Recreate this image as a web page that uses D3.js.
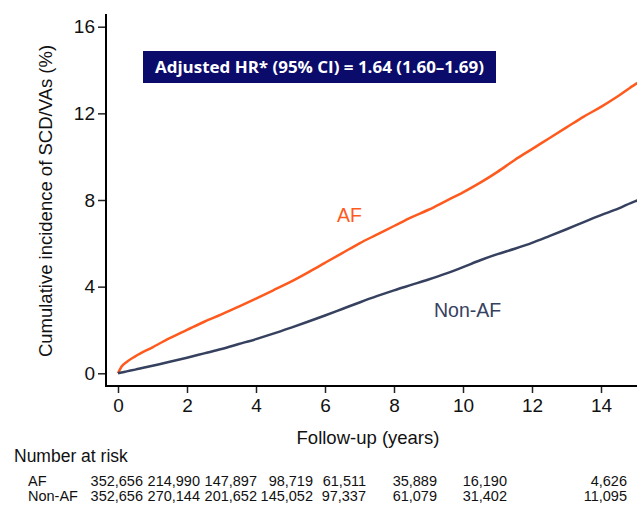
<!DOCTYPE html>
<html>
<head>
<meta charset="utf-8">
<script src="https://cdn.jsdelivr.net/npm/d3@7"></script>
<style>
  body { margin: 0; background: #fff; }
  text { font-family: "Liberation Sans", Arial, sans-serif; }
</style>
</head>
<body>
<div id="chart"></div>
<script>
let width = 637, height = 505;

// follow-up times (years) and cumulative incidence (%)
let years = [0, 0.1, 0.25, 0.5, 1, 1.5, 2, 2.5, 3, 3.5, 4, 4.5, 5, 5.5, 6, 6.5, 7, 7.5,
  8, 8.5, 9, 9.5, 10, 10.5, 11, 11.5, 12, 12.5, 13, 13.5, 14, 14.5, 15, 15.1];
let afVals = [0, 0.3, 0.52, 0.78, 1.2, 1.62, 2.0, 2.38, 2.72, 3.08, 3.45, 3.83, 4.22, 4.65,
  5.1, 5.55, 6.0, 6.4, 6.8, 7.2, 7.55, 7.95, 8.35, 8.8, 9.3, 9.85, 10.35, 10.85, 11.35,
  11.85, 12.3, 12.8, 13.35, 13.45];
let nonAfVals = [0, 0.04, 0.09, 0.17, 0.35, 0.53, 0.72, 0.92, 1.12, 1.35, 1.58, 1.83, 2.1,
  2.38, 2.67, 2.97, 3.27, 3.56, 3.83, 4.08, 4.33, 4.6, 4.9, 5.22, 5.5, 5.75, 6.02, 6.33,
  6.65, 6.98, 7.3, 7.6, 7.95, 8.0];

let xTicks = [0, 2, 4, 6, 8, 10, 12, 14];
let yTicks = [0, 4, 8, 12, 16];

// number at risk table
let riskGroups = ["AF", "Non-AF"];
let riskAF = ["352,656", "214,990", "147,897", "98,719", "61,511", "35,889", "16,190", "4,626"];
let riskNonAF = ["352,656", "270,144", "201,652", "145,052", "97,337", "61,079", "31,402", "11,095"];
let riskColEnds = [143, 200, 257, 313, 366, 437, 507, 627]; // right edges of the columns

let hrText = "Adjusted HR* (95% CI) = 1.64 (1.60\u20131.69)";

let afColor = "#ff5a1e";
let nonAfColor = "#36415f";

let svg = d3.select("#chart")
  .append("svg")
  .attr("width", width)
  .attr("height", height);

let x = d3.scaleLinear().domain([0, 16]).range([118, 118 + 16 * 34.5]);
let y = d3.scaleLinear().domain([0, 16]).range([373.3, 26.7]);

// clip so the curves stop at the right border
svg.append("clipPath").attr("id", "plotClip")
  .append("rect").attr("x", 106).attr("y", 0).attr("width", width - 106).attr("height", 386);

// axes
let xAxis = d3.axisBottom(x).tickValues(xTicks).tickSize(7).tickPadding(3).tickFormat(d3.format("d"));
let gx = svg.append("g").attr("transform", "translate(0,386)").call(xAxis);
gx.select(".domain").remove();
gx.append("line").attr("x1", 105).attr("x2", width).attr("y1", 0).attr("y2", 0)
  .attr("stroke", "#000").attr("stroke-width", 2);
gx.selectAll(".tick line").attr("stroke", "#222").attr("stroke-width", 1.5);
gx.selectAll(".tick text").attr("font-size", 19).attr("fill", "#111").attr("dy", "0.85em");

let yAxis = d3.axisLeft(y).tickValues(yTicks).tickSize(8).tickPadding(3);
let gy = svg.append("g").attr("transform", "translate(106,0)").call(yAxis);
gy.select(".domain").remove();
gy.append("line").attr("x1", 0).attr("x2", 0).attr("y1", 14).attr("y2", 387)
  .attr("stroke", "#000").attr("stroke-width", 2);
gy.selectAll(".tick line").attr("stroke", "#222").attr("stroke-width", 1.5);
gy.selectAll(".tick text").attr("font-size", 19).attr("fill", "#111");

// axis titles
svg.append("text")
  .attr("transform", "translate(52,201) rotate(-90)")
  .attr("text-anchor", "middle")
  .attr("font-size", 18.5)
  .attr("fill", "#111")
  .text("Cumulative incidence of SCD/VAs (%)");

svg.append("text")
  .attr("x", 368).attr("y", 444)
  .attr("text-anchor", "middle")
  .attr("font-size", 18.5)
  .attr("fill", "#111")
  .text("Follow-up (years)");

// curves
let line = d3.line()
  .x(function(d) { return x(d[0]); })
  .y(function(d) { return y(d[1]); })
  .curve(d3.curveMonotoneX);

let curves = [
  { name: "AF", vals: afVals, color: afColor },
  { name: "Non-AF", vals: nonAfVals, color: nonAfColor }
];

svg.append("g").attr("clip-path", "url(#plotClip)")
  .selectAll("path")
  .data(curves)
  .enter()
  .append("path")
  .attr("d", function(d) { return line(years.map(function(t, i) { return [t, d.vals[i]]; })); })
  .attr("fill", "none")
  .attr("stroke", function(d) { return d.color; })
  .attr("stroke-width", 2.5);

// curve labels
svg.append("text").attr("x", 337).attr("y", 222).attr("font-size", 19.5)
  .attr("fill", afColor).text("AF");
svg.append("text").attr("x", 434).attr("y", 317).attr("font-size", 19.5)
  .attr("fill", nonAfColor).text("Non-AF");

// HR box
svg.append("rect")
  .attr("x", 143).attr("y", 51).attr("width", 353).attr("height", 32)
  .attr("fill", "#0b0b6b");
svg.append("text")
  .attr("x", 319.5).attr("y", 72.5)
  .attr("text-anchor", "middle")
  .attr("font-size", 16)
  .attr("font-weight", "bold")
  .attr("fill", "#fff")
  .style("font-family", "'Open Sans', sans-serif")
  .attr("textLength", 329)
  .attr("lengthAdjust", "spacingAndGlyphs")
  .text(hrText);

// number at risk
svg.append("text").attr("x", 14).attr("y", 462).attr("font-size", 17.5)
  .attr("fill", "#111").text("Number at risk");

let rows = [riskAF, riskNonAF];
rows.forEach(function(row, r) {
  let ry = 486 + r * 15;
  svg.append("text").attr("x", 28).attr("y", ry).attr("font-size", 14.5)
    .attr("fill", "#111").text(riskGroups[r]);
  svg.selectAll(".risk" + r)
    .data(row)
    .enter()
    .append("text")
    .attr("class", "risk" + r)
    .attr("x", function(d, i) { return riskColEnds[i]; })
    .attr("y", ry)
    .attr("text-anchor", "end")
    .attr("font-size", 14.5)
    .attr("fill", "#111")
    .text(function(d) { return d; });
});
</script>
</body>
</html>
